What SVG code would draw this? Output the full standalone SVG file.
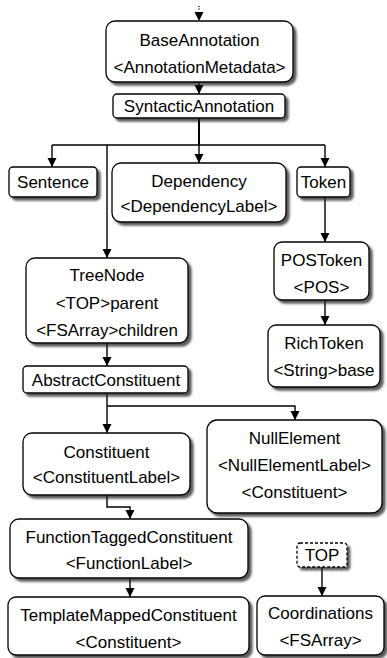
<svg xmlns="http://www.w3.org/2000/svg" width="387" height="658" viewBox="0 0 387 658">
<style>
  .box { fill: #ffffff; stroke: #000000; stroke-width: 1.3; filter: url(#sh); }
  .dash { fill: #ffffff; stroke: #000000; stroke-width: 1.3; stroke-dasharray: 3 2; filter: url(#sh); }
  text { font-family: "Liberation Sans", Arial, sans-serif; font-size: 17px; fill: #000000; text-anchor: middle; }
  .edge { fill: none; stroke: #000000; stroke-width: 1.4; }
  .head { fill: #000000; stroke: none; }
</style>
<defs>
  <filter id="sh" x="-10%" y="-10%" width="130%" height="140%">
    <feDropShadow dx="3" dy="3" stdDeviation="0.8" flood-color="#222222" flood-opacity="0.75"/>
  </filter>
  <marker id="arr" markerUnits="userSpaceOnUse" markerWidth="10" markerHeight="10" refX="9" refY="4.5" orient="auto">
    <path d="M0,0 L9,4.5 L0,9 Z" fill="#000000"/>
  </marker>
</defs>
<rect width="387" height="658" fill="#ffffff"/>
<g id="connectors">
  <path class="edge" d="M199,6 V11" stroke-dasharray="1 1.5"/>
  <path class="head" d="M194.5,12 L203.5,12 L199,21 Z"/>
  <path class="edge" d="M199,82 V94" marker-end="url(#arr)"/>
  <path class="edge" d="M199,118 V145" style="stroke-width:2"/>
  <path class="edge" d="M52,145 H325"/>
  <path class="edge" d="M52,145 V167" marker-end="url(#arr)"/>
  <path class="edge" d="M199,145 V163" marker-end="url(#arr)"/>
  <path class="edge" d="M325,145 V167" marker-end="url(#arr)"/>
  <path class="edge" d="M107,145 V258" marker-end="url(#arr)"/>
  <path class="edge" d="M325,197 V242" marker-end="url(#arr)"/>
  <path class="edge" d="M325,300 V325" marker-end="url(#arr)"/>
  <path class="edge" d="M107,343 V366" marker-end="url(#arr)"/>
  <path class="edge" d="M107,393 V433" marker-end="url(#arr)"/>
  <path class="edge" d="M107,406 H295 V420" marker-end="url(#arr)"/>
  <path class="edge" d="M107,495 V507 H130 V519" marker-end="url(#arr)"/>
  <path class="edge" d="M130,578 V597" marker-end="url(#arr)"/>
  <path class="edge" d="M322,567 V596" marker-end="url(#arr)"/>
</g>
<g id="BaseAnnotation">
  <rect class="box" x="106" y="21" width="187" height="61" rx="9"/>
  <text x="199.5" y="46">BaseAnnotation</text>
  <text x="199.5" y="73">&lt;AnnotationMetadata&gt;</text>
</g>
<g id="SyntacticAnnotation">
  <rect class="box" x="113" y="94" width="172" height="24" rx="4"/>
  <text x="199" y="112">SyntacticAnnotation</text>
</g>
<g id="Sentence">
  <rect class="box" x="9" y="167" width="88" height="30" rx="4"/>
  <text x="53" y="188">Sentence</text>
</g>
<g id="Dependency">
  <rect class="box" x="112" y="163" width="174" height="59" rx="9"/>
  <text x="199" y="187">Dependency</text>
  <text x="199" y="212">&lt;DependencyLabel&gt;</text>
</g>
<g id="Token">
  <rect class="box" x="297" y="167" width="53" height="30" rx="4"/>
  <text x="323.5" y="188">Token</text>
</g>
<g id="POSToken">
  <rect class="box" x="274" y="242" width="95" height="58" rx="8"/>
  <text x="321.5" y="266">POSToken</text>
  <text x="321.5" y="293">&lt;POS&gt;</text>
</g>
<g id="RichToken">
  <rect class="box" x="268" y="325" width="112" height="62" rx="8"/>
  <text x="324" y="349">RichToken</text>
  <text x="324" y="376">&lt;String&gt;base</text>
</g>
<g id="TreeNode">
  <rect class="box" x="26" y="258" width="162" height="85" rx="9"/>
  <text x="107" y="281">TreeNode</text>
  <text x="107" y="309">&lt;TOP&gt;parent</text>
  <text x="107" y="336">&lt;FSArray&gt;children</text>
</g>
<g id="AbstractConstituent">
  <rect class="box" x="23" y="366" width="165" height="27" rx="4"/>
  <text x="106" y="386">AbstractConstituent</text>
</g>
<g id="Constituent">
  <rect class="box" x="23" y="433" width="167" height="62" rx="9"/>
  <text x="106.5" y="458">Constituent</text>
  <text x="106.5" y="483">&lt;ConstituentLabel&gt;</text>
</g>
<g id="NullElement">
  <rect class="box" x="207" y="420" width="175" height="93" rx="10"/>
  <text x="294.5" y="444">NullElement</text>
  <text x="294.5" y="471">&lt;NullElementLabel&gt;</text>
  <text x="294.5" y="498">&lt;Constituent&gt;</text>
</g>
<g id="FunctionTaggedConstituent">
  <rect class="box" x="10" y="519" width="238" height="59" rx="9"/>
  <text x="129" y="543">FunctionTaggedConstituent</text>
  <text x="129" y="569">&lt;FunctionLabel&gt;</text>
</g>
<g id="TemplateMappedConstituent">
  <rect class="box" x="8" y="597" width="241" height="58" rx="8"/>
  <text x="128.5" y="621">TemplateMappedConstituent</text>
  <text x="128.5" y="648">&lt;Constituent&gt;</text>
</g>
<g id="TOP">
  <rect class="dash" x="297" y="543" width="50" height="24" rx="3"/>
  <text x="322" y="561">TOP</text>
</g>
<g id="Coordinations">
  <rect class="box" x="257" y="596" width="127" height="59" rx="8"/>
  <text x="320.5" y="619">Coordinations</text>
  <text x="320.5" y="646">&lt;FSArray&gt;</text>
</g>
</svg>
